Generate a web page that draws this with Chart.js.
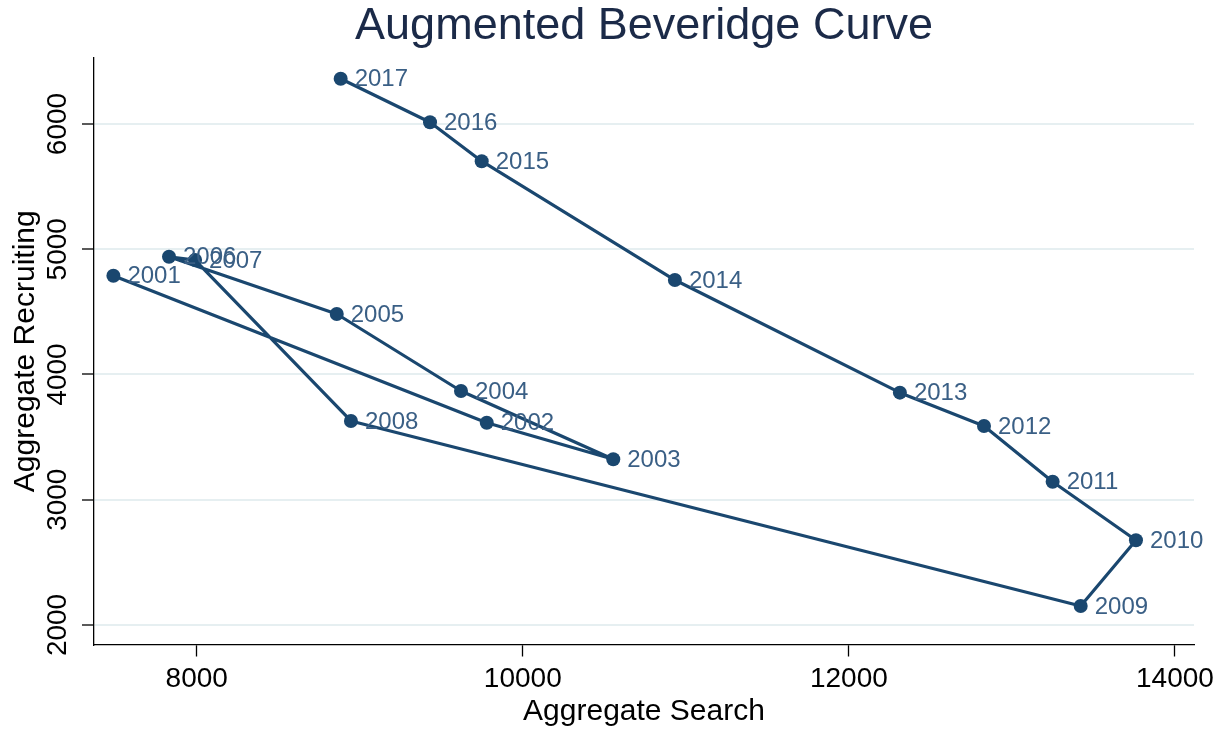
<!DOCTYPE html>
<html>
<head>
<meta charset="utf-8">
<script src="https://cdn.jsdelivr.net/npm/chart.js@4/dist/chart.umd.min.js"></script>
<style>
  html,body{margin:0;padding:0;background:#fff;}
  canvas{display:block;}
</style>
</head>
<body>
<canvas id="bev" width="1225" height="732"></canvas>
<script>
// values, one entry per year
const years = ['2001','2002','2003','2004','2005','2006','2007','2008','2009','2010','2011','2012','2013','2014','2015','2016','2017'];
const searchVals  = [7489, 9779, 10555, 9621, 8859, 7830, 7990, 8946, 13422, 13761, 13250, 12829, 12313, 10933, 9748, 9431, 8883];
const recruitVals = [4788, 3615, 3323, 3868, 4483, 4940, 4914, 3629, 2152, 2676, 3144, 3589, 3855, 4754, 5703, 6014, 6361];
const xTicks = [8000, 10000, 12000, 14000];
const yTicks = [2000, 3000, 4000, 5000, 6000];

const navy = '#1a476f';
const FONT = '"Liberation Sans", Arial, sans-serif';

// year labels next to each marker
const yearLabels = {
  id:'yearLabels',
  afterDatasetsDraw(chart){
    const ctx = chart.ctx;
    const meta = chart.getDatasetMeta(0);
    ctx.save();
    ctx.font = '24px ' + FONT;
    ctx.fillStyle = '#3a5f85';
    ctx.textAlign = 'left';
    ctx.textBaseline = 'middle';
    meta.data.forEach((pt,i)=>{ ctx.fillText(years[i], pt.x + 14, pt.y + 1); });
    ctx.restore();
  }
};

const pts = searchVals.map((x,i)=>({x, y: recruitVals[i]}));

new Chart(document.getElementById('bev').getContext('2d'), {
  type:'line',
  data:{ datasets:[{
    data: pts,
    borderColor: navy, backgroundColor: navy,
    borderWidth: 3.2, tension: 0, borderJoinStyle:'round',
    pointRadius: 7, pointHoverRadius: 7,
    pointBackgroundColor: navy, pointBorderColor: navy, pointBorderWidth: 0,
    clip: false
  }]},
  options:{
    responsive:false, animation:false,
    layout:{ padding:{ left:0, right:31, top:0, bottom:0 } },
    plugins:{
      legend:{ display:false },
      tooltip:{ enabled:false },
      title:{
        display:true, text:'Augmented Beveridge Curve', fullSize:false,
        color:'#1b2a48', font:{ family:FONT, size:45, weight:'normal', lineHeight:1.2 },
        padding:{ top:0, bottom:4 }
      }
    },
    scales:{
      x:{
        type:'linear', min:7370, max:14117,
        afterBuildTicks: s => { s.ticks = xTicks.map(v=>({value:v})); },
        afterFit: s => { s.height = 87.5; s.paddingLeft = 0; s.paddingRight = 0; },
        border:{ display:true, color:'#000', width:1.3 },
        grid:{ drawOnChartArea:false, drawTicks:true, tickLength:12, tickColor:'#000', tickWidth:1.3 },
        ticks:{ color:'#000', font:{ family:FONT, size:28 }, padding:6, maxRotation:0, callback: v => String(v) },
        title:{ display:true, text:'Aggregate Search', color:'#000', font:{ family:FONT, size:30, lineHeight:1.2 }, padding:{ top:0, bottom:2.4 } }
      },
      y:{
        type:'linear', min:1844, max:6527,
        afterBuildTicks: s => { s.ticks = yTicks.map(v=>({value:v})); },
        afterFit: s => { s.width = 94; s.paddingTop = 0; s.paddingBottom = 0; },
        border:{ display:true, color:'#000', width:1.3 },
        grid:{ drawOnChartArea:true, color:'#e6eff1', lineWidth:2, drawTicks:true, tickLength:12, tickColor:'#000', tickWidth:1.3 },
        ticks:{ color:'#000', font:{ family:FONT, size:28 }, padding:-7.4, minRotation:90, maxRotation:90, crossAlign:'center', callback: v => String(v) },
        title:{ display:true, text:'Aggregate Recruiting', color:'#000', font:{ family:FONT, size:30, lineHeight:1.2 }, padding:{ top:7.5, bottom:0 } }
      }
    }
  },
  plugins:[yearLabels]
});
</script>
</body>
</html>
